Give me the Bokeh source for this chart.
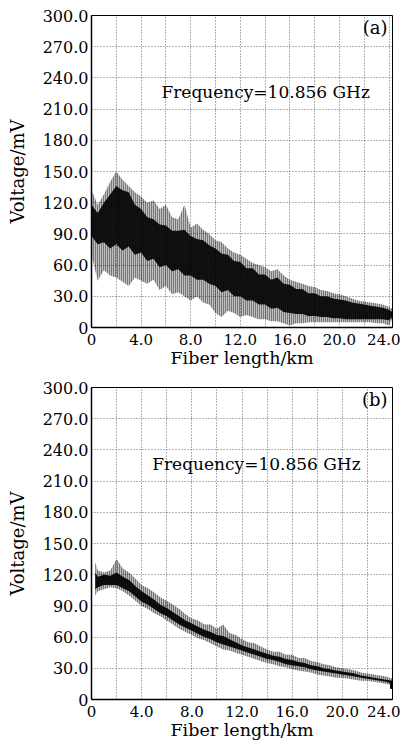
from bokeh.plotting import figure
from bokeh.layouts import column
from bokeh.models import FixedTicker, Label
from bokeh.embed import file_html
from bokeh.resources import INLINE

# ---------------- data ----------------
x_a = [0, 0.5, 1.0, 1.5, 2.0, 2.5, 3.0, 3.5, 4.0, 4.5, 5.0, 5.5, 6.0, 6.5, 7.0, 7.5,
       8.0, 8.5, 9.0, 9.5, 10.0, 10.5, 11.0, 11.5, 12.0, 12.5, 13.0, 13.5, 14.0, 14.5,
       15.0, 15.5, 16.0, 16.5, 17.0, 17.5, 18.0, 18.5, 19.0, 19.5, 20.0, 20.5, 21.0,
       21.5, 22.0, 22.5, 23.0, 23.5, 24.0, 24.25]
# outer envelope (spikes) of trace (a)
upper_a = [132, 118, 128, 140, 150, 142, 136, 130, 126, 120, 122, 114, 118, 106, 104, 118,
           96, 100, 94, 90, 84, 82, 76, 72, 70, 66, 62, 60, 58, 54,
           56, 50, 46, 44, 42, 40, 39, 36, 35, 33, 32, 30, 28,
           26, 25, 24, 23, 22, 20, 18]
lower_a = [70, 45, 55, 50, 48, 44, 40, 48, 45, 42, 46, 36, 40, 32, 34, 30,
           26, 30, 24, 22, 14, 10, 16, 14, 10, 12, 10, 8, 8, 6,
           6, 4, 2, 4, 4, 5, 5, 5, 5, 5, 5, 5, 5,
           5, 5, 5, 4, 4, 2, 8]
# dense core of trace (a)
core_hi_a = [118, 110, 120, 128, 136, 132, 130, 118, 114, 106, 104, 99, 98, 93, 93, 94,
             88, 85, 84, 79, 76, 71, 70, 64, 63, 57, 57, 51, 51, 46,
             48, 42, 41, 37, 37, 33, 33, 30, 30, 28, 27, 26, 24,
             23, 22, 21, 20, 19, 17, 15]
core_lo_a = [88, 80, 82, 76, 80, 74, 78, 70, 72, 64, 66, 58, 60, 54, 56, 50,
             50, 46, 46, 42, 40, 34, 36, 30, 30, 26, 26, 22, 22, 18,
             19, 15, 14, 13, 13, 11, 11, 10, 10, 9, 9, 8, 8,
             8, 8, 8, 8, 8, 7, 10]

x_b = [0.3, 0.5, 1.0, 1.5, 2.0, 2.5, 3.0, 3.5, 4.0, 4.5, 5.0, 5.5, 6.0, 6.5, 7.0, 7.5,
       8.0, 8.5, 9.0, 9.5, 10.0, 10.5, 11.0, 11.5, 12.0, 12.5, 13.0, 13.5, 14.0, 14.5,
       15.0, 15.5, 16.0, 16.5, 17.0, 17.5, 18.0, 18.5, 19.0, 19.5, 20.0, 20.5, 21.0,
       21.5, 22.0, 22.5, 23.0, 23.5, 24.0]
upper_b = [132, 124, 122, 124, 135, 126, 122, 116, 110, 107, 103, 98, 95, 91, 87, 82,
           78, 76, 72, 72, 68, 72, 64, 62, 58, 55, 54, 51, 48, 46,
           46, 43, 43, 40, 40, 37, 36, 34, 33, 31, 30, 29, 28,
           26, 25, 24, 23, 22, 20]
lower_b = [100, 104, 106, 108, 107, 104, 100, 95, 90, 87, 83, 80, 76, 72, 68, 65,
           62, 59, 57, 54, 51, 48, 47, 45, 43, 41, 39, 37, 35, 34,
           32, 31, 29, 28, 27, 26, 24, 23, 22, 21, 21, 20, 19,
           18, 18, 17, 16, 15, 14]
core_hi_b = [122, 118, 120, 119, 122, 118, 115, 109, 104, 100, 96, 91, 88, 84, 80, 76,
             73, 70, 67, 65, 62, 61, 58, 55, 52, 50, 48, 46, 44, 42,
             41, 39, 38, 36, 35, 33, 32, 30, 29, 28, 27, 26, 25,
             23, 22, 21, 20, 19, 18]
core_lo_b = [106, 108, 110, 110, 110, 107, 104, 99, 94, 91, 87, 83, 80, 76, 72, 69,
             66, 63, 60, 58, 55, 53, 51, 49, 47, 45, 43, 41, 39, 38,
             36, 34, 33, 32, 31, 29, 28, 27, 26, 25, 24, 23, 22,
             21, 20, 19, 18, 17, 15]
end_b_x = [24.05]
end_b_y = [13]

y_ticks = [0, 30, 60, 90, 120, 150, 180, 210, 240, 270, 300]
y_tick_labels = ["0", "30.0", "60.0", "90.0", "120.0", "150.0", "180.0", "210.0",
                 "240.0", "270.0", "300.0"]
x_ticks = [0, 4, 8, 12, 16, 20, 24]
x_tick_labels = ["0", "4.0", "8.0", "12.0", "16.0", "20.0", "24.0"]
x_grid = [0, 2, 4, 6, 8, 10, 12, 14, 16, 18, 20, 22, 24]

FONT = "DejaVu Serif"


def make_panel(xmax, height, bt, bb, br, tag, freq_x):
    p = figure(width=400, height=height, x_range=(0, xmax), y_range=(0, 300),
               output_backend="svg", toolbar_location=None,
               min_border_left=91, min_border_right=br,
               min_border_top=bt, min_border_bottom=bb)
    p.outline_line_color = "black"
    p.outline_line_width = 1
    p.background_fill_color = "white"
    p.border_fill_color = "white"
    for ax in (p.xaxis[0], p.yaxis[0]):
        ax.major_tick_in = 0
        ax.major_tick_out = 0
        ax.minor_tick_in = 0
        ax.minor_tick_out = 0
        ax.axis_line_color = "black"
        ax.axis_line_width = 1.5
        ax.major_label_text_font = FONT
        ax.major_label_text_color = "black"
        ax.axis_label_text_font = FONT
        ax.axis_label_text_font_style = "normal"
        ax.axis_label_text_color = "black"
    p.yaxis.major_label_text_font_size = "16px"
    p.xaxis.major_label_text_font_size = "15px"
    p.yaxis.axis_label_text_font_size = "18px"
    p.xaxis.axis_label_text_font_size = "17.5px"
    p.yaxis.ticker = FixedTicker(ticks=y_ticks)
    p.yaxis.major_label_overrides = dict(zip(y_ticks, y_tick_labels))
    p.xaxis.ticker = FixedTicker(ticks=x_ticks)
    p.xaxis.major_label_overrides = dict(zip(x_ticks, x_tick_labels))
    p.xaxis.axis_label = "Fiber length/km"
    p.yaxis.axis_label = "Voltage/mV"
    p.yaxis.major_label_standoff = 3
    p.yaxis.axis_label_standoff = 12
    p.xaxis.major_label_standoff = 6
    p.xaxis.axis_label_standoff = 0
    p.xgrid.ticker = FixedTicker(ticks=x_grid)
    p.ygrid.ticker = FixedTicker(ticks=y_ticks)
    for g in (p.xgrid[0], p.ygrid[0]):
        g.grid_line_color = "#666666"
        g.grid_line_dash = "1 2"
        g.grid_line_width = 1
    p.add_layout(Label(x=freq_x, y=226, text="Frequency=10.856 GHz",
                       text_font=FONT, text_font_size="17px",
                       text_baseline="middle", text_align="left", text_color="black"))
    p.add_layout(Label(x=xmax - 0.4, y=288, text=tag,
                       text_font=FONT, text_font_size="18px",
                       text_baseline="middle", text_align="right", text_color="black"))
    return p


pa = make_panel(24.28, 372, 15, 45, 4, "(a)", 5.64)
pa.varea(x=x_a, y1=lower_a, y2=upper_a, fill_color="black", fill_alpha=0.25,
         hatch_pattern="vertical_line", hatch_color="black", hatch_alpha=0.75,
         hatch_scale=2, hatch_weight=1)
pa.varea(x=x_a, y1=core_lo_a, y2=core_hi_a, fill_color="black", fill_alpha=0.9)

pb = make_panel(24.0, 372, 15, 45, 8, "(b)", 4.84)
pb.varea(x=x_b, y1=lower_b, y2=upper_b, fill_color="black", fill_alpha=0.25,
         hatch_pattern="vertical_line", hatch_color="black", hatch_alpha=0.8,
         hatch_scale=2, hatch_weight=1)
pb.varea(x=x_b, y1=core_lo_b, y2=core_hi_b, fill_color="black", fill_alpha=0.92)
pb.scatter(x=end_b_x, y=end_b_y, marker="square", size=5, color="black")

layout = column(pa, pb, spacing=0)
open("out.html", "w").write(file_html(layout, INLINE))
